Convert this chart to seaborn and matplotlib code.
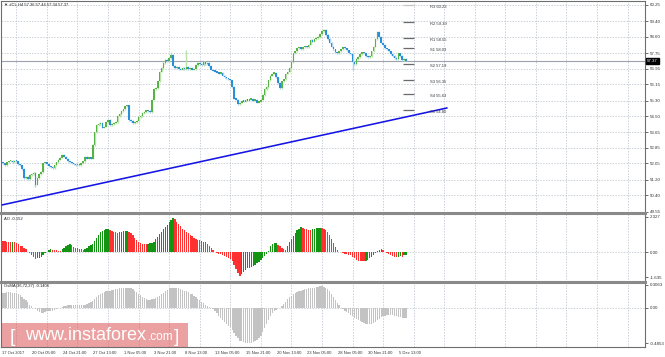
import numpy as np
import pandas as pd
import matplotlib
matplotlib.use("Agg")
import matplotlib.pyplot as plt
from matplotlib.patches import Rectangle
import matplotlib.transforms as mtrans
import seaborn as sns

# ---------------- data ----------------
first_open = 52.10
closes = [
    52.05, 51.95, 52.10, 52.15, 52.20, 52.10, 52.20, 52.15, 52.00, 51.95, 51.75, 51.30, 51.35, 51.25, 51.45, 51.50,
    51.55, 50.95, 51.30, 51.50, 51.60, 52.05, 52.10, 52.00, 51.90, 51.85, 51.80, 51.95, 52.10, 52.25, 52.35, 52.50,
    52.40, 52.30, 52.15, 52.10, 52.05, 52.00, 51.95, 52.00, 51.95, 52.05, 52.15, 52.40, 52.30, 52.35, 52.30, 53.00,
    53.65, 54.05, 54.10, 54.15, 53.90, 53.95, 54.20, 54.30, 54.05, 54.10, 54.15, 54.20, 54.50, 54.60, 54.75, 54.85,
    55.00, 55.05, 54.30, 54.25, 54.15, 54.20, 54.25, 54.45, 54.50, 54.65, 54.70, 54.80, 54.75, 54.70, 55.35, 55.90,
    55.95, 56.30, 56.80, 57.00, 57.25, 57.40, 57.35, 57.50, 57.65, 57.10, 57.00, 57.05, 56.95, 56.90, 57.00, 56.95,
    57.05, 56.95, 57.00, 56.90, 56.95, 57.15, 57.25, 57.20, 57.15, 57.30, 57.20, 57.25, 57.10, 56.90, 56.85, 56.80,
    56.75, 56.70, 56.75, 56.60, 56.50, 56.45, 56.40, 56.35, 56.00, 55.40, 55.35, 55.10, 55.20, 55.30, 55.25, 55.35,
    55.30, 55.35, 55.40, 55.30, 55.35, 55.20, 55.25, 55.35, 55.60, 55.90, 56.00, 56.35, 56.60, 56.70, 56.75, 56.50,
    56.20, 55.95, 56.30, 56.40, 56.70, 56.80, 57.00, 57.30, 57.75, 57.85, 58.00, 58.05, 57.95, 58.05, 58.10, 58.05,
    58.20, 58.45, 58.35, 58.50, 58.55, 58.60, 58.75, 58.90, 58.95, 58.70, 58.50, 58.30, 58.10, 57.95, 57.80, 57.75,
    57.85, 57.95, 58.05, 58.00, 57.90, 57.75, 57.70, 57.30, 57.20, 57.45, 57.55, 57.70, 57.80, 57.75, 57.60, 57.55,
    57.60, 57.85, 58.10, 58.50, 58.85, 58.60, 58.30, 58.20, 58.00, 57.95, 57.85, 57.70, 57.60, 57.50, 57.45, 57.75,
    57.60, 57.40, 57.45, 57.37,
]
long_highs = {88: 57.80, 96: 57.90}
long_lows = {17: 50.84, 183: 56.90}

ao_values = [
    0.72, 0.71, 0.70, 0.69, 0.68, 0.70, 0.66, 0.60, 0.52, 0.44, 0.38, 0.30, 0.20, 0.05, -0.05, -0.15,
    -0.30, -0.45, -0.40, -0.35, -0.30, -0.18, -0.05, 0.05, 0.15, 0.20, 0.18, 0.15, 0.12, 0.10, 0.10, 0.20,
    0.30, 0.40, 0.48, 0.52, 0.45, 0.35, 0.28, 0.25, 0.22, 0.20, 0.18, 0.22, 0.30, 0.38, 0.45, 0.55,
    0.75, 0.95, 1.12, 1.30, 1.40, 1.46, 1.50, 1.52, 1.45, 1.40, 1.35, 1.30, 1.28, 1.30, 1.34, 1.38,
    1.40, 1.42, 1.35, 1.25, 1.10, 0.95, 0.80, 0.68, 0.58, 0.56, 0.55, 0.54, 0.56, 0.58, 0.62, 0.70,
    0.85, 1.00, 1.20, 1.35, 1.50, 1.65, 1.80, 1.95, 2.10, 2.24, 2.15, 2.00, 1.85, 1.70, 1.55, 1.45,
    1.35, 1.25, 1.15, 1.05, 0.95, 0.88, 0.82, 0.78, 0.74, 0.70, 0.65, 0.55, 0.42, 0.30, 0.15, 0.05,
    -0.02, -0.08, -0.13, -0.18, -0.25, -0.32, -0.38, -0.45, -0.60, -0.85, -1.10, -1.35, -1.55, -1.45, -1.30, -1.15,
    -1.05, -1.00, -0.95, -0.88, -0.80, -0.72, -0.62, -0.50, -0.38, -0.25, -0.10, 0.10, 0.40, 0.55, 0.62, 0.64,
    0.50, 0.38, 0.30, 0.22, 0.18, 0.40, 0.65, 0.85, 1.05, 1.25, 1.45, 1.55, 1.66, 1.60, 1.55, 1.50,
    1.48, 1.47, 1.50, 1.54, 1.58, 1.60, 1.61, 1.58, 1.52, 1.45, 1.30, 1.10, 0.85, 0.60, 0.35, 0.15,
    0.05, 0.00, -0.04, -0.08, -0.12, -0.15, -0.20, -0.28, -0.38, -0.48, -0.55, -0.58, -0.60, -0.60, -0.55, -0.48,
    -0.40, -0.32, -0.20, -0.05, 0.08, 0.18, 0.20, 0.12, 0.05, -0.02, -0.10, -0.15, -0.22, -0.28, -0.32, -0.30,
    -0.25, -0.30, -0.20, -0.152,
]

osma_values = [
    0.20, 0.20, 0.21, 0.21, 0.21, 0.20, 0.20, 0.20, 0.19, 0.17, 0.15, 0.12, 0.10, 0.07, 0.04, 0.02,
    0.00, -0.02, -0.04, -0.06, -0.07, -0.07, -0.06, -0.05, -0.05, -0.04, -0.04, -0.03, -0.02, -0.01, 0.00, 0.01,
    0.02, 0.02, 0.03, 0.03, 0.03, 0.03, 0.03, 0.03, 0.03, 0.03, 0.04, 0.04, 0.05, 0.06, 0.07, 0.09,
    0.12, 0.15, 0.17, 0.19, 0.20, 0.21, 0.22, 0.23, 0.23, 0.24, 0.24, 0.25, 0.25, 0.26, 0.26, 0.27,
    0.27, 0.27, 0.27, 0.26, 0.25, 0.23, 0.21, 0.19, 0.17, 0.15, 0.13, 0.11, 0.10, 0.10, 0.11, 0.12,
    0.13, 0.14, 0.16, 0.18, 0.20, 0.22, 0.24, 0.26, 0.27, 0.27, 0.27, 0.26, 0.26, 0.25, 0.24, 0.23,
    0.22, 0.21, 0.19, 0.18, 0.16, 0.14, 0.12, 0.10, 0.08, 0.06, 0.04, 0.02, 0.01, 0.00, -0.02, -0.05,
    -0.08, -0.11, -0.14, -0.17, -0.19, -0.22, -0.25, -0.27, -0.31, -0.35, -0.39, -0.42, -0.45, -0.46, -0.47, -0.48,
    -0.48, -0.48, -0.48, -0.47, -0.46, -0.44, -0.42, -0.38, -0.33, -0.28, -0.23, -0.17, -0.12, -0.08, -0.05, -0.03,
    -0.01, 0.00, 0.02, 0.05, 0.08, 0.11, 0.14, 0.16, 0.18, 0.20, 0.21, 0.22, 0.23, 0.24, 0.25, 0.25,
    0.26, 0.26, 0.27, 0.27, 0.28, 0.28, 0.29, 0.29, 0.28, 0.27, 0.25, 0.23, 0.19, 0.15, 0.10, 0.06,
    0.03, 0.00, -0.02, -0.04, -0.06, -0.08, -0.10, -0.12, -0.14, -0.15, -0.17, -0.18, -0.20, -0.21, -0.22, -0.23,
    -0.23, -0.22, -0.21, -0.19, -0.17, -0.15, -0.13, -0.12, -0.11, -0.10, -0.10, -0.10, -0.10, -0.11, -0.12, -0.13,
    -0.13, -0.14, -0.14, -0.1406,
]

x_labels = ["17 Oct 2017", "20 Oct 05:00", "24 Oct 21:00", "27 Oct 13:00", "1 Nov 05:00",
            "3 Nov 21:00", "8 Nov 13:00", "13 Nov 05:00", "15 Nov 21:00", "20 Nov 13:00",
            "23 Nov 05:00", "28 Nov 05:00", "30 Nov 21:00", "5 Dec 13:00"]
price_ticks = [60.25, 59.40, 58.60, 57.75, 56.95, 56.15, 55.30, 54.50, 53.65, 52.85, 52.05, 51.20, 50.40, 49.55]
price_tick_labels = ["60.25", "59.40", "58.60", "57.75", "56.95", "56.15", "55.30", "54.50",
                     "53.65", "52.85", "52.05", "51.20", "50.40", "49.55"]
ao_ticks = [2.327, 0.0, -1.635]
ao_tick_labels = ["2.327", "0.00", "-1.635"]
osma_ticks = [0.3063, 0.0, -0.4853]
osma_tick_labels = ["0.3063", "0.00", "-0.4853"]

pivot_names = ["R3", "R2", "R1", "S1", "S2", "S3", "S4", "S5"]
pivot_values = [60.23, 59.39, 58.55, 58.03, 57.19, 56.35, 55.63, 54.80]

trend_bars = [-0.5, 232.5]
trend_prices = [49.90, 54.92]

last_price = 57.37
title_text = "\u25bc #CL,H4 57.36 57.44 57.34 57.37"
ao_title = "AO -0.152"
osma_title = "OsMA(36,72,27) -0.1406"

# ---------------- layout ----------------
sns.set_style("white")
FONT = ["Liberation Sans", "DejaVu Sans"]
plt.rcParams["font.family"] = FONT

W, H = 665, 357
fig = plt.figure(figsize=(W / 100, H / 100), dpi=100)
fig.patch.set_facecolor("white")
L, R = 1, 645
PPB = 1.91          # pixels per bar
X0 = 3              # pixel of bar 0

def add_ax(top, bottom):
    return fig.add_axes([L / W, 1 - bottom / H, (R - L) / W, (bottom - top) / H])

def ylim_from(v1, p1, v2, p2, top, bottom):
    ppu = (p2 - p1) / (v1 - v2)
    return (v2 - (bottom - p2) / ppu, v1 + (p1 - top) / ppu)

xlim = (-(X0 - L) / PPB, (R - X0) / PPB)

ax_main = add_ax(1, 213)
ax_ao = add_ax(213, 281.7)
ax_os = add_ax(281.7, 346.7)

ax_main.set_ylim(*ylim_from(60.25, 5, 49.55, 211.7, 1, 213))
ax_ao.set_ylim(*ylim_from(2.327, 216.7, -1.635, 277.3, 213, 281.7))
ax_os.set_ylim(*ylim_from(0.3063, 285, -0.4853, 343.3, 281.7, 346.7))

grid_col = "#b4bcc8"
n = len(closes)
vgrid = list(range(7, int(xlim[1]), 16))

for ax in (ax_main, ax_ao, ax_os):
    ax.set_xlim(*xlim)
    ax.set_facecolor("white")
    for gx in vgrid:
        ax.axvline(gx, color=grid_col, lw=0.5, ls=(0, (2, 2)), zorder=0)
    for s in ax.spines.values():
        s.set_color("#6e6e6e")
        s.set_linewidth(0.8)
    ax.yaxis.tick_right()
    ax.tick_params(axis="y", which="both", direction="out", length=2, width=0.5,
                   pad=1.5, labelsize=3.2, colors="#333333")
    ax.tick_params(axis="x", which="both", length=0, labelbottom=False)

ax_ao.spines["top"].set_linewidth(2.2)
ax_ao.spines["top"].set_color("#8a8a8a")
ax_os.spines["top"].set_linewidth(2.2)
ax_os.spines["top"].set_color("#8a8a8a")

# ---------------- main price panel ----------------
for p in price_ticks:
    ax_main.axhline(p, color=grid_col, lw=0.5, ls=(0, (2, 2)), zorder=0)
ax_main.set_yticks(price_ticks)
ax_main.set_yticklabels(price_tick_labels)

opens = [first_open] + closes[:-1]
idx = np.arange(n)
bull_col, bear_col = "#56b445", "#2a8fd6"
bull_w, bear_w = "#b9e2ab", "#a9d3f0"
for i in range(n):
    o, c = opens[i], closes[i]
    up = c >= o
    lo, hi = min(o, c), max(o, c)
    wl = long_lows.get(i, lo - 0.04)
    wh = long_highs.get(i, hi + 0.04)
    ax_main.vlines(i, wl, wh, color=bull_w if up else bear_w, lw=1.0, zorder=2)
    h = max(hi - lo, 0.06)
    ax_main.bar(i, h, bottom=lo, width=0.85, color=bull_col if up else bear_col,
                linewidth=0, zorder=3)

# current price line
ax_main.axhline(last_price, color="#9aa3ad", lw=0.8, zorder=1)
blend = mtrans.blended_transform_factory(ax_main.transAxes, ax_main.transData)
ax_main.text(1.003, last_price, f"{last_price:.2f}", transform=blend, fontsize=3.2,
             color="white", va="center", ha="left", family=FONT,
             bbox=dict(boxstyle="square,pad=0.25", fc="black", ec="black"), zorder=10, clip_on=False)

# trend line via seaborn
trend_df = pd.DataFrame({"bar": trend_bars, "price": trend_prices})
sns.lineplot(data=trend_df, x="bar", y="price", ax=ax_main, color="#1414e6", lw=1.15, zorder=4)
ax_main.set_xlabel("")
ax_main.set_ylabel("")

# pivot levels
for name, val in zip(pivot_names, pivot_values):
    ax_main.hlines(val, 209.3, 215.2, color="#c4c4c4" if name == "R3" else "#6a6a6a", lw=0.9, zorder=3)
    ax_main.text(223.5, val, f"{name} {val:.2f}", fontsize=3.0, color="#333333",
                 va="top", ha="left", zorder=5)

fig.text(4 / W, 1 - 5 / H, title_text, fontsize=3.0, color="#222222", va="center", ha="left")

# ---------------- AO panel ----------------
ax_ao.axhline(0, color=grid_col, lw=0.5, ls=(0, (2, 2)), zorder=0)
ao_cols = ["#ff3030"] + ["#139413" if ao_values[i] > ao_values[i - 1] else "#ff3030" for i in range(1, n)]
ax_ao.bar(idx, ao_values, width=0.7, color=ao_cols, linewidth=0, zorder=2)
ax_ao.set_yticks(ao_ticks)
ax_ao.set_yticklabels(ao_tick_labels)
fig.text(4 / W, 1 - 218.5 / H, ao_title, fontsize=3.0, color="#222222", va="center", ha="left")

# ---------------- OsMA panel ----------------
ax_os.axhline(0, color=grid_col, lw=0.5, ls=(0, (2, 2)), zorder=0)
ax_os.bar(idx, osma_values, width=0.7, color="#c3c3c3", linewidth=0, zorder=2)
ax_os.set_yticks(osma_ticks)
ax_os.set_yticklabels(osma_tick_labels)
fig.text(4 / W, 1 - 286.5 / H, osma_title, fontsize=3.0, color="#222222", va="center", ha="left")

# x labels
lab_pos = [16 * k - 0.8 for k in range(len(x_labels))]
lab_pos[0] = -0.6
ax_os.set_xticks(lab_pos)
ax_os.set_xticklabels(x_labels)
ax_os.tick_params(axis="x", labelbottom=True, length=2, width=0.5, direction="out",
                  pad=1.2, labelsize=3.0, colors="#333333")
for t in ax_os.get_xticklabels():
    t.set_ha("left")

# watermark
fig.patches.append(Rectangle((2 / W, 1 - 347 / H), 186 / W, 24 / H, transform=fig.transFigure,
                             facecolor=(0.86, 0.33, 0.33), alpha=0.55, edgecolor="none", zorder=20))
fig.text(10 / W, 1 - 338 / H, "[", fontsize=14, color="white", va="center", ha="left", zorder=21,
         family=FONT)
fig.text(25 / W, 1 - 336 / H, "www.instaforex", fontsize=13, color="white", va="center", ha="left",
         zorder=21, family=FONT)
fig.text(148 / W, 1 - 337.5 / H, ".com", fontsize=8.5, color="white", va="center", ha="left",
         zorder=21, family=FONT)
fig.text(174 / W, 1 - 338 / H, "]", fontsize=14, color="white", va="center", ha="left", zorder=21,
         family=FONT)

fig.savefig("out.png", dpi=100)
